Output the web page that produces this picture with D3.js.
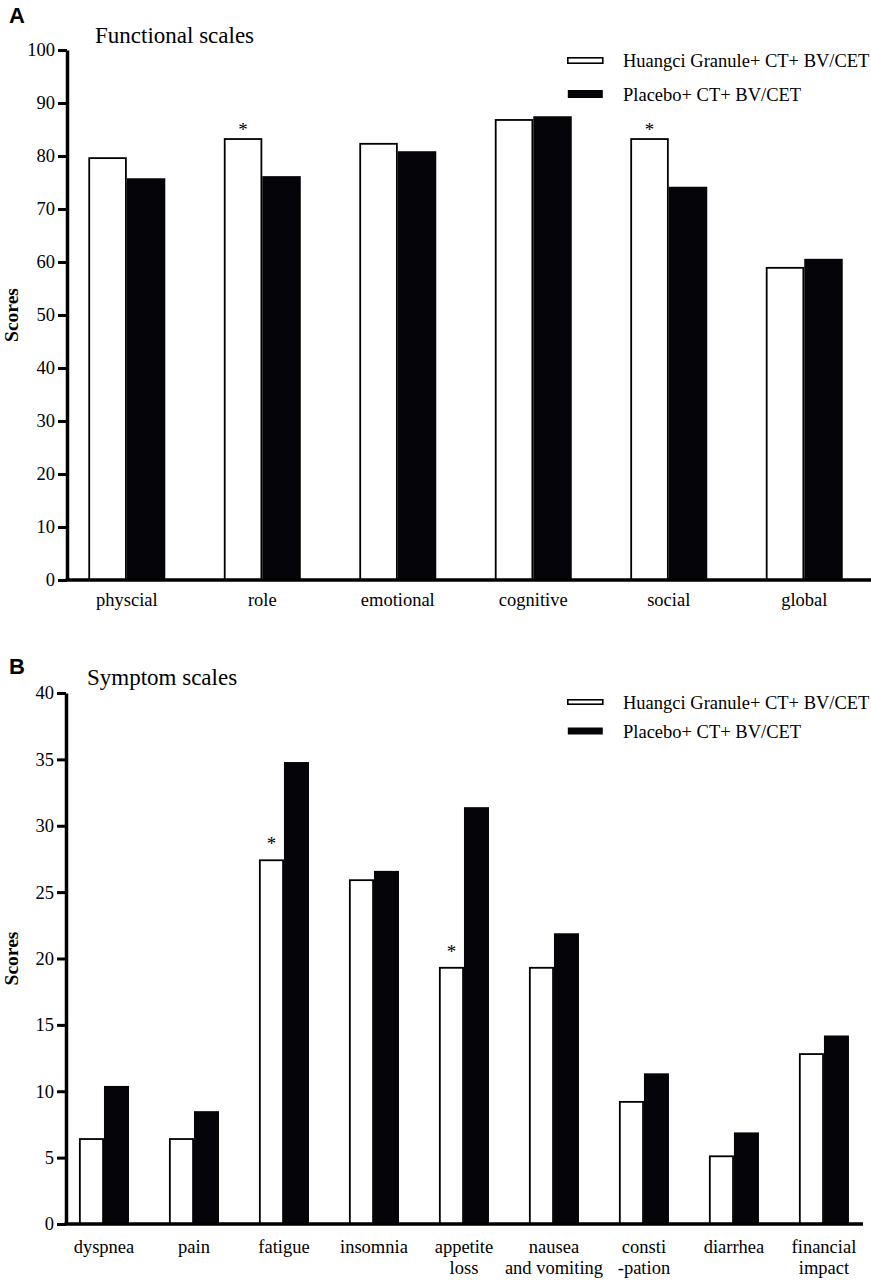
<!DOCTYPE html>
<html>
<head>
<meta charset="utf-8">
<script src="https://d3js.org/d3.v7.min.js"></script>
<style>
  body { margin: 0; background: #fff; }
  svg { display: block; font-family: "Liberation Serif", "Times New Roman", serif; }
</style>
</head>
<body>
<div id="chart"></div>
<script>
// Series names (legend)
const seriesNames = ["Huangci Granule+ CT+ BV/CET", "Placebo+ CT+ BV/CET"];

// Panel A: functional scales
const funcCategories = ["physcial", "role", "emotional", "cognitive", "social", "global"];
const funcHuangci = [79.6, 83.2, 82.3, 86.8, 83.2, 58.9];
const funcPlacebo = [75.8, 76.2, 80.9, 87.5, 74.2, 60.6];
const funcTicks = [0, 10, 20, 30, 40, 50, 60, 70, 80, 90, 100];
const funcStars = ["role", "social"];

// Panel B: symptom scales
const sympCategories = ["dyspnea", "pain", "fatigue", "insomnia", "appetite\nloss",
  "nausea\nand vomiting", "consti\n-pation", "diarrhea", "financial\nimpact"];
const sympHuangci = [6.4, 6.4, 27.4, 25.9, 19.3, 19.3, 9.2, 5.1, 12.8];
const sympPlacebo = [10.4, 8.5, 34.8, 26.6, 31.4, 21.9, 11.35, 6.9, 14.2];
const sympTicks = [0, 5, 10, 15, 20, 25, 30, 35, 40];
const sympStars = ["fatigue", "appetite\nloss"];

const svg = d3.select("#chart").append("svg")
  .attr("width", 871)
  .attr("height", 1280);

function drawPanel(cfg) {
  const g = svg.append("g");

  const x = d3.scaleBand()
    .domain(cfg.categories)
    .range([cfg.left, cfg.right])
    .paddingInner(cfg.padInner)
    .paddingOuter(cfg.padOuter)
    .align(cfg.align);

  const sub = d3.scaleBand()
    .domain([0, 1])
    .range([0, x.bandwidth()]);

  const y = d3.scaleLinear()
    .domain([0, cfg.ticks[cfg.ticks.length - 1]])
    .range([cfg.bottom, cfg.top]);

  const rows = cfg.categories.map((c, i) => ({ c, vals: [cfg.a[i], cfg.b[i]] }));

  // bars
  const grp = g.selectAll("g.grp").data(rows).join("g")
    .attr("class", "grp")
    .attr("transform", d => `translate(${x(d.c)},0)`);

  grp.selectAll("rect").data(d => d.vals.map((v, k) => ({ v, k }))).join("rect")
    .attr("x", d => sub(d.k) + (d.k === 0 ? 0.9 : 0))
    .attr("width", d => sub.bandwidth() - (d.k === 0 ? 1.8 : 0))
    .attr("y", d => y(d.v))
    .attr("height", d => y(0) - y(d.v))
    .attr("fill", d => d.k === 0 ? "#fff" : "#050509")
    .attr("stroke", d => d.k === 0 ? "#000" : "none")
    .attr("stroke-width", 1.8);

  // significance stars
  g.selectAll("text.star").data(rows.filter(d => cfg.stars.includes(d.c))).join("text")
    .attr("class", "star")
    .attr("x", d => x(d.c) + sub(0) + sub.bandwidth() / 2)
    .attr("y", d => y(d.vals[0]) - cfg.starGap)
    .attr("text-anchor", "middle")
    .attr("font-size", 19)
    .text("*");

  // y axis
  const yAxis = g.append("g")
    .attr("transform", `translate(${cfg.left},0)`)
    .call(d3.axisLeft(y).tickValues(cfg.ticks).tickSize(9).tickSizeOuter(0).tickPadding(3));
  yAxis.select(".domain").attr("stroke-width", 3.5);
  yAxis.selectAll(".tick line").attr("stroke-width", 3);
  yAxis.selectAll(".tick text")
    .attr("font-family", "Liberation Serif")
    .attr("font-size", 18.5)
    .attr("fill", "#000");

  // x axis
  const xAxis = g.append("g")
    .attr("transform", `translate(0,${cfg.bottom})`)
    .call(d3.axisBottom(x).tickSize(0).tickSizeOuter(0).tickFormat(""));
  xAxis.select(".domain").attr("stroke-width", 3.5)
    .attr("d", `M${cfg.left - 1.5},0H${cfg.axisEnd}`);

  g.selectAll("text.xlab").data(cfg.categories).join("text")
    .attr("class", "xlab")
    .attr("x", d => x(d) + x.bandwidth() / 2)
    .attr("y", cfg.labelY)
    .attr("text-anchor", "middle")
    .attr("font-size", 18.5)
    .selectAll("tspan").data(d => d.split("\n")).join("tspan")
    .attr("x", function () { return d3.select(this.parentNode).attr("x"); })
    .attr("dy", (d, i) => i === 0 ? 0 : 20.5)
    .text(d => d);

  // axis title
  g.append("text")
    .attr("transform", `translate(${cfg.titleX},${(cfg.top + cfg.bottom) / 2}) rotate(-90)`)
    .attr("text-anchor", "middle")
    .attr("font-weight", "bold")
    .attr("font-size", 19.5)
    .text("Scores");

  // panel letter and subtitle
  g.append("text")
    .attr("x", 9).attr("y", cfg.letterY)
    .attr("font-family", "Liberation Sans, Arial, sans-serif")
    .attr("font-weight", "bold")
    .attr("font-size", 22)
    .text(cfg.letter);

  g.append("text")
    .attr("x", cfg.subX).attr("y", cfg.subY)
    .attr("font-size", 23)
    .text(cfg.subtitle);

  // legend
  const leg = g.selectAll("g.leg").data(seriesNames).join("g")
    .attr("class", "leg")
    .attr("transform", (d, i) => `translate(567,${cfg.legY[i]})`);
  leg.append("rect")
    .attr("x", 0.8)
    .attr("y", (d, i) => i === 0 ? -cfg.legH / 2 + 0.8 : -cfg.legH / 2 - 0.5)
    .attr("width", 35)
    .attr("height", (d, i) => i === 0 ? cfg.legH - 1.6 : cfg.legH + 1)
    .attr("fill", (d, i) => i === 0 ? "#fff" : "#050509")
    .attr("stroke", (d, i) => i === 0 ? "#000" : "none")
    .attr("stroke-width", 1.6);
  leg.append("text")
    .attr("x", 56)
    .attr("y", 6.5)
    .attr("font-size", 18.5)
    .text(d => d);
}

drawPanel({
  categories: funcCategories, a: funcHuangci, b: funcPlacebo, ticks: funcTicks, stars: funcStars,
  left: 67, right: 871, axisEnd: 871, top: 50, bottom: 580,
  padInner: 0.432, padOuter: 0.183, align: 0.43,
  starGap: 3, labelY: 606, titleX: 18,
  letter: "A", letterY: 23, subtitle: "Functional scales", subX: 95, subY: 43,
  legY: [60.5, 94], legH: 7
});

drawPanel({
  categories: sympCategories, a: sympHuangci, b: sympPlacebo, ticks: sympTicks, stars: sympStars,
  left: 66, right: 863, axisEnd: 863, top: 693, bottom: 1224,
  padInner: 0.444, padOuter: 0.15, align: 0.48,
  starGap: 10, labelY: 1253, titleX: 18,
  letter: "B", letterY: 674, subtitle: "Symptom scales", subX: 87, subY: 685,
  legY: [702, 731], legH: 6
});
</script>
</body>
</html>
